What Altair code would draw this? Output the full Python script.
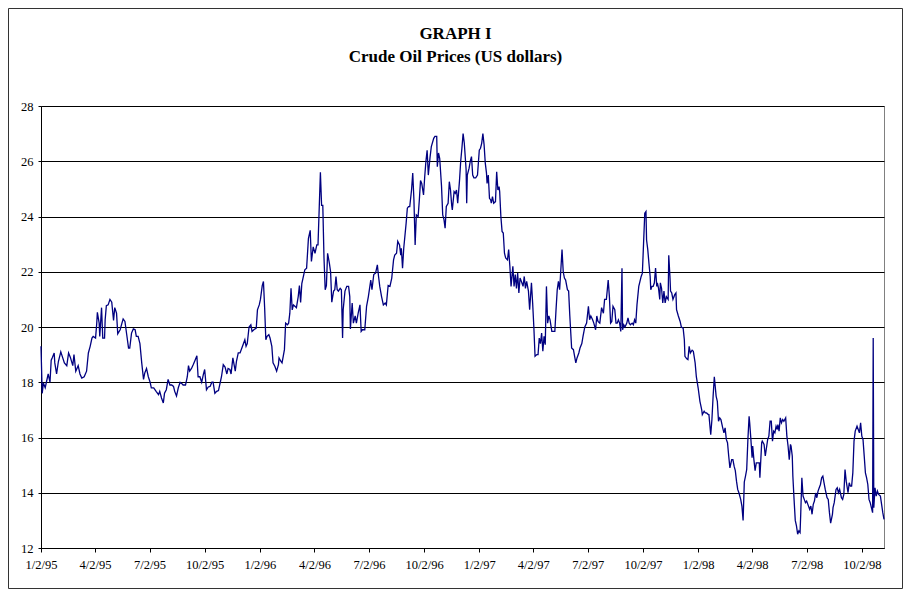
import altair as alt
import pandas as pd

# Daily crude oil price.
# day = days since 1995-01-01, price = US dollars per barrel
day_1995 = [1, 3, 5, 8, 10, 13, 16, 18, 20, 23, 24, 27, 30, 34, 37, 40, 44, 47, 50, 54,
            56, 59, 63, 66, 69, 73, 77, 80, 83, 86, 88, 92, 94, 95, 98, 99, 102, 104, 107, 108,
            110, 113, 116, 119, 122, 124, 127, 129, 133, 136, 138, 141, 144, 147, 149, 152, 155, 158, 160, 163,
            166, 169, 172, 174, 177, 180, 183, 185, 189, 193, 197, 199, 202, 205, 207, 210, 213, 216, 219, 222,
            224, 227, 230, 233, 236, 238, 242, 245, 247, 249, 252, 255, 258, 261, 263, 266, 269, 272, 274, 277,
            280, 283, 286, 288, 291, 294, 297, 300, 302, 305, 308, 311, 313, 316, 318, 321, 325, 327, 330, 333,
            336, 338, 341, 343, 345, 348, 351, 353, 356, 360, 362, 365]
price_1995 = [19.3, 17.6, 17.97, 17.8, 18.0, 18.3, 18.0, 18.8, 18.9, 19.06, 18.7, 18.3, 18.75, 19.1, 18.9, 18.7, 18.6, 19.06, 18.9, 18.6,
              19.0, 18.4, 18.6, 18.3, 18.15, 18.2, 18.4, 19.06, 19.3, 19.6, 19.66, 19.6, 20.14, 20.53, 20.14, 19.66, 20.7, 19.6, 19.6, 20.26,
              20.77, 20.8, 21.0, 20.9, 20.24, 20.7, 20.5, 19.75, 19.9, 20.14, 20.29, 20.2, 19.72, 19.24, 19.24, 19.78, 19.93, 19.9, 19.66, 19.66,
              19.4, 18.7, 18.1, 18.33, 18.5, 18.2, 18.0, 17.8, 17.8, 17.67, 17.55, 17.67, 17.43, 17.25, 17.6, 17.73, 18.1, 17.9, 17.9, 17.85,
              17.67, 17.5, 17.8, 18.0, 17.95, 17.9, 17.9, 18.2, 18.6, 18.4, 18.5, 18.64, 18.8, 18.96, 18.2, 18.2, 18.0, 18.3, 18.46, 17.73,
              17.83, 17.85, 18.0, 18.0, 17.6, 17.67, 17.7, 18.0, 18.2, 18.64, 18.55, 18.3, 18.5, 18.46, 18.3, 18.88, 18.4, 18.76, 19.06, 19.06,
              19.24, 19.36, 19.54, 19.3, 19.4, 20.0, 20.08, 19.84, 19.9, 19.96, 20.62, 20.8]

day_1996 = [367, 370, 372, 374, 376, 378, 381, 383, 386, 388, 391, 394, 397, 398, 401, 403, 405, 407, 409, 412,
            414, 416, 418, 420, 422, 425, 427, 430, 432, 434, 436, 438, 441, 444, 447, 450, 452, 455, 458, 461,
            463, 467, 469, 471, 473, 475, 477, 479, 482, 484, 486, 489, 491, 493, 495, 497, 500, 502, 504, 505,
            508, 511, 514, 516, 517, 520, 522, 525, 527, 530, 533, 535, 537, 541, 544, 547, 551, 553, 556, 559,
            562, 564, 566, 569, 572, 575, 577, 580, 583, 586, 589, 591, 594, 596, 599, 601, 602, 604, 606, 610,
            612, 614, 616, 619, 621, 623, 625, 627, 630, 632, 634, 636, 639, 641, 643, 645, 647, 650, 652, 656,
            658, 661, 662, 664, 666, 669, 671, 673, 675, 677, 680, 682, 684, 686, 687, 690, 692, 694, 696, 699,
            701, 703, 705, 707, 710, 711, 712, 715, 717, 719, 721, 723, 726, 729]
price_1996 = [21.0, 21.5, 21.65, 20.7, 19.54, 19.66, 19.72, 19.6, 19.3, 18.7, 18.58, 18.4, 18.64, 18.88, 18.76, 18.7, 18.94, 19.18, 20.14, 20.08,
              20.14, 20.5, 21.4, 20.62, 20.8, 20.74, 20.7, 21.1, 21.5, 20.89, 21.57, 21.77, 22.07, 22.13, 23.2, 23.5, 22.37, 22.9, 22.67, 22.97,
              22.97, 25.6, 24.4, 24.4, 22.5, 21.35, 21.5, 22.67, 22.3, 22.0, 20.9, 21.3, 21.35, 21.83, 21.35, 21.3, 21.4, 21.35, 19.6, 20.63,
              21.3, 21.47, 21.47, 21.1, 19.93, 20.87, 20.14, 20.4, 20.14, 20.5, 20.8, 19.84, 19.9, 19.9, 20.75, 21.1, 21.7, 21.35, 21.9, 21.95,
              22.25, 21.83, 21.47, 21.1, 20.8, 20.87, 20.8, 21.5, 21.47, 21.77, 22.43, 22.6, 22.67, 23.1, 22.97, 22.6, 22.85, 22.13, 22.85, 23.76,
              24.3, 24.36, 24.36, 24.96, 25.57, 24.6, 22.97, 24.06, 24.0, 24.6, 25.3, 25.2, 24.78, 25.45, 26.0, 26.4, 25.5, 26.17, 26.53, 26.83,
              26.9, 26.9, 25.8, 26.3, 26.1, 25.1, 24.06, 23.9, 23.58, 24.36, 24.48, 25.26, 24.96, 24.4, 24.24, 24.9, 24.84, 24.96, 24.48, 25.3,
              26.0, 26.47, 27.0, 26.65, 25.7, 24.48, 25.5, 25.75, 26.0, 26.17, 25.5, 25.4, 25.4, 25.5]

day_1997 = [732, 734, 736, 738, 740, 742, 744, 745, 747, 749, 751, 752, 754, 756, 759, 761, 763, 765, 766, 768,
            770, 772, 774, 776, 779, 781, 783, 785, 788, 790, 792, 794, 796, 798, 800, 803, 805, 807, 809, 811,
            814, 816, 819, 821, 823, 825, 828, 830, 832, 834, 836, 838, 840, 842, 844, 846, 848, 850, 853, 855,
            858, 860, 862, 864, 866, 870, 872, 874, 876, 879, 881, 883, 886, 889, 891, 893, 895, 898, 900, 903,
            905, 908, 911, 914, 916, 918, 921, 923, 926, 928, 930, 933, 936, 939, 941, 944, 947, 949, 951, 953,
            955, 958, 960, 962, 964, 966, 968, 970, 971, 973, 975, 978, 980, 982, 984, 987, 989, 991, 993, 995,
            998, 1000, 1002, 1004, 1006, 1008, 1010, 1011, 1013, 1015, 1017, 1018, 1020, 1022, 1024, 1026, 1028, 1029, 1031, 1033,
            1034, 1036, 1038, 1040, 1042, 1044, 1047, 1048, 1050, 1051, 1053, 1055, 1058, 1060, 1061, 1064, 1067, 1069, 1072, 1074,
            1075, 1078, 1080, 1082, 1084, 1087, 1089, 1092, 1094]
price_1997 = [26.4, 26.47, 26.65, 27.0, 26.6, 25.93, 25.57, 25.2, 25.5, 24.66, 24.6, 24.48, 24.72, 24.48, 24.54, 25.62, 24.96, 25.08, 24.9, 24.0,
              23.46, 23.4, 22.67, 22.5, 22.43, 22.8, 22.2, 21.47, 22.2, 21.47, 21.9, 21.4, 21.95, 21.23, 21.77, 21.6, 21.47, 21.83, 21.4, 21.65,
              21.3, 20.63, 21.6, 20.87, 20.0, 18.94, 19.0, 19.0, 19.6, 19.4, 19.78, 19.12, 19.66, 19.36, 21.47, 20.14, 20.4, 20.26, 19.84, 19.84,
              19.84, 20.63, 21.35, 21.65, 21.35, 22.8, 22.0, 21.77, 21.7, 21.35, 21.3, 20.4, 19.24, 19.18, 18.94, 18.7, 18.88, 19.06, 19.24, 19.4,
              19.66, 20.0, 20.14, 20.75, 20.26, 20.4, 20.26, 20.14, 19.9, 20.4, 20.2, 20.14, 20.7, 20.5, 21.0, 21.0, 21.7, 21.1, 20.14, 20.2,
              20.75, 20.63, 20.14, 20.14, 20.26, 20.14, 19.84, 22.13, 19.9, 20.08, 20.0, 20.14, 20.33, 20.14, 20.08, 20.14, 20.08, 20.26, 20.14, 20.8,
              21.47, 21.65, 21.83, 21.95, 23.03, 24.12, 24.18, 23.15, 22.8, 22.3, 21.83, 21.35, 21.47, 21.47, 21.6, 22.13, 21.47, 21.6, 21.4, 21.0,
              21.6, 21.4, 20.87, 21.3, 20.87, 21.1, 21.0, 22.6, 21.83, 21.3, 21.23, 21.0, 21.17, 21.23, 20.63, 20.4, 20.2, 20.0, 19.96, 19.54,
              18.94, 18.85, 18.82, 19.3, 19.06, 19.16, 19.12, 18.7, 18.2]

day_1998 = [1097, 1100, 1103, 1104, 1107, 1109, 1111, 1114, 1115, 1118, 1120, 1122, 1124, 1127, 1129, 1131, 1133, 1135, 1138, 1140,
            1142, 1144, 1146, 1148, 1150, 1153, 1155, 1157, 1159, 1161, 1163, 1165, 1168, 1170, 1172, 1174, 1176, 1178, 1180, 1182,
            1183, 1185, 1187, 1188, 1190, 1192, 1194, 1197, 1199, 1200, 1203, 1204, 1207, 1209, 1211, 1213, 1215, 1217, 1219, 1221,
            1223, 1225, 1227, 1229, 1230, 1232, 1234, 1236, 1238, 1240, 1243, 1245, 1247, 1249, 1251, 1252, 1254, 1255, 1257, 1259,
            1261, 1263, 1265, 1267, 1268, 1270, 1272, 1274, 1276, 1278, 1280, 1283, 1285, 1287, 1289, 1291, 1293, 1295, 1297, 1299,
            1301, 1303, 1305, 1307, 1309, 1312, 1314, 1316, 1318, 1321, 1322, 1324, 1327, 1329, 1331, 1333, 1336, 1338, 1340, 1342,
            1344, 1347, 1349, 1351, 1353, 1355, 1357, 1359, 1362, 1364, 1366, 1368, 1370, 1372, 1374, 1376, 1378, 1380, 1382, 1384,
            1386, 1388, 1389, 1390, 1392, 1394, 1396, 1398, 1401, 1403, 1405, 1407]
price_1998 = [17.8, 17.31, 17.0, 16.83, 16.95, 16.89, 16.89, 16.83, 16.83, 16.1, 16.65, 17.5, 18.2, 17.5, 17.31, 16.59, 16.71, 16.65, 16.35, 16.17,
              16.35, 15.93, 15.81, 15.33, 14.9, 15.2, 15.2, 14.96, 14.8, 14.42, 14.12, 14.0, 13.76, 13.52, 13.0, 14.39, 14.6, 14.84, 15.93, 16.77,
              16.53, 15.93, 15.27, 15.69, 15.2, 14.8, 15.08, 15.08, 15.08, 14.54, 15.81, 15.87, 15.75, 15.33, 15.63, 15.93, 16.05, 16.59, 16.59, 15.87,
              16.23, 16.17, 16.41, 16.29, 16.47, 16.23, 16.71, 16.53, 16.65, 16.59, 16.71, 16.05, 15.69, 15.2, 15.75, 15.69, 15.33, 14.6, 13.76, 13.0,
              12.8, 12.5, 12.62, 12.56, 13.16, 14.54, 13.88, 13.76, 13.64, 13.7, 13.58, 13.4, 13.52, 13.22, 13.58, 13.7, 13.99, 13.82, 14.06, 14.18,
              14.3, 14.54, 14.6, 14.36, 14.12, 13.82, 13.76, 13.28, 12.9, 13.22, 13.46, 13.64, 14.12, 14.18, 14.0, 14.12, 13.82, 13.76, 13.94, 14.84,
              14.42, 14.0, 14.36, 14.24, 14.24, 14.72, 15.87, 16.23, 16.41, 16.29, 16.17, 16.53, 16.05, 15.93, 15.33, 14.72, 14.54, 14.3, 13.76, 13.64,
              13.46, 13.28, 19.6, 13.46, 14.18, 13.88, 14.06, 13.94, 13.88, 13.58, 13.28, 13.04]

tick_dates = ["1995-01-02", "1995-04-02", "1995-07-02", "1995-10-02",
              "1996-01-02", "1996-04-02", "1996-07-02", "1996-10-02",
              "1997-01-02", "1997-04-02", "1997-07-02", "1997-10-02",
              "1998-01-02", "1998-04-02", "1998-07-02", "1998-10-02"]
y_ticks = [12, 14, 16, 18, 20, 22, 24, 26, 28]
title_lines = ["GRAPH I", "Crude Oil Prices (US dollars)"]

days = day_1995 + day_1996 + day_1997 + day_1998
prices = price_1995 + price_1996 + price_1997 + price_1998
assert len(days) == len(prices), (len(days), len(prices))

base = pd.Timestamp("1995-01-01")
df = pd.DataFrame({
    "date": [(base + pd.Timedelta(days=d)).strftime("%Y-%m-%d") for d in days],
    "price": prices,
})


def dt(s):
    y, m, d = (int(v) for v in s.split("-"))
    return alt.DateTime(year=y, month=m, date=d)


FONT = "Liberation Serif"
W, H = 843, 442
PAD = {"left": 33, "top": 98, "right": 19, "bottom": 41}

x_axis = alt.Axis(
    values=[dt(s) for s in tick_dates],
    format="%-m/%-d/%y",
    title=None,
    grid=False,
    tickSize=4,
    labelPadding=6,
    labelAngle=0,
    labelFlush=False,
    labelOverlap=False,
    labelFont=FONT,
    labelFontSize=12.5,
    labelColor="black",
    domainColor="black",
    tickColor="black",
)
y_axis = alt.Axis(
    values=y_ticks,
    title=None,
    grid=True,
    gridColor="black",
    gridOpacity=1,
    gridWidth=1,
    tickSize=3,
    labelPadding=5,
    labelFont=FONT,
    labelFontSize=12.5,
    labelColor="black",
    domainColor="black",
    tickColor="black",
)

line = (
    alt.Chart(df)
    .mark_line(color="#000080", strokeWidth=1.3, interpolate="linear")
    .encode(
        x=alt.X("yearmonthdate(date):T",
                scale=alt.Scale(domain=[dt("1995-01-02"), dt("1998-11-08")], nice=False),
                axis=x_axis),
        y=alt.Y("price:Q", scale=alt.Scale(domain=[12, 28], nice=False, zero=False), axis=y_axis),
    )
)

# thin border drawn around the whole chart area, as in the original figure
frame = (
    alt.Chart(alt.Data(values=[{}]))
    .mark_rect(fill=None, stroke="#333333", strokeWidth=1)
    .encode(
        x=alt.value(-PAD["left"] + 0.5),
        x2=alt.value(W + PAD["right"] - 0.5),
        y=alt.value(-PAD["top"] + 0.5),
        y2=alt.value(H + PAD["bottom"] - 0.5),
    )
)

# two-line bold title, centred over the whole figure
title_marks = [
    alt.Chart(alt.Data(values=[{"t": text}]))
    .mark_text(font=FONT, fontSize=17, fontWeight="bold", color="black",
               align="center", baseline="alphabetic")
    .encode(text="t:N", x=alt.value(W / 2 - 7), y=alt.value(ypos))
    for text, ypos in zip(title_lines, [-67, -44])
]

chart = (
    alt.layer(line, frame, *title_marks)
    .properties(
        width=W,
        height=H,
        background="white",
        padding=PAD,
        autosize=alt.AutoSizeParams(type="none"),
    )
    .configure_view(stroke="#808080", strokeWidth=1, clip=False)
)

chart.save("out.html", embed_options={"renderer": "svg", "actions": False})
